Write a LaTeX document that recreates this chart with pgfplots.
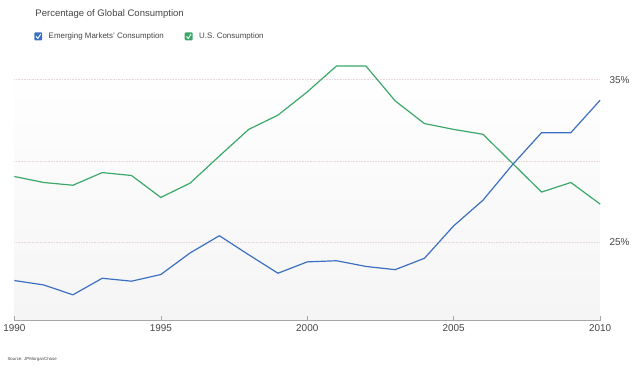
\documentclass[border=0pt]{standalone}
\usepackage{pgfplots}
\pgfplotsset{compat=1.18}
\usepackage{fontspec}
\setmainfont{Liberation Sans}
\definecolor{emblue}{HTML}{3B6FC2}
\definecolor{usgreen}{HTML}{3BA86A}
\definecolor{txtgray}{HTML}{444444}
\definecolor{gridpink}{HTML}{E9D6D6}
\begin{document}
\begin{tikzpicture}[x=1bp,y=1bp]
\begin{axis}[
  at={(0,0)}, anchor=south west,
  scale only axis, width=588bp, height=262bp,
  xmin=1990, xmax=2010, ymin=20.15, ymax=36.23,
  axis x line*=bottom, axis y line=none,
  xtick={1990,1995,2000,2005,2010},
  xticklabel style={font=\fontsize{10}{12}\selectfont, text=txtgray},
  x tick label style={/pgf/number format/1000 sep={}},
  /pgf/number format/assume math mode=true,
  x axis line style={draw=gray!70, line width=0.8pt},
  xtick style={draw=gray!70, line width=0.6pt},
  tick align=inside, major tick length=5bp,
  clip=false,
  axis background/.style={shade, top color=white, middle color=white, bottom color=black!4},
]
\pgfplotsinvokeforeach{25,30,35}{
  \draw[gridpink, densely dotted, line width=0.6pt] (axis cs:1990,#1) -- (axis cs:2010,#1);
}
\node[anchor=west, font=\fontsize{10}{12}\selectfont, text=txtgray] at (axis cs:2010,35) {\hspace*{6bp}35\%};
\node[anchor=west, font=\fontsize{10}{12}\selectfont, text=txtgray] at (axis cs:2010,25) {\hspace*{6bp}25\%};
\addplot[usgreen, line width=1.2pt] coordinates {
(1990,29.04) (1991,28.67) (1992,28.50) (1993,29.28) (1994,29.10)
(1995,27.75) (1996,28.63) (1997,30.30) (1998,31.94) (1999,32.82)
(2000,34.25) (2001,35.85) (2002,35.85) (2003,33.70) (2004,32.30)
(2005,31.94) (2006,31.64) (2007,29.86) (2008,28.08) (2009,28.67)
(2010,27.34)};
\addplot[emblue, line width=1.2pt] coordinates {
(1990,22.63) (1991,22.36) (1992,21.75) (1993,22.77) (1994,22.59)
(1995,23.00) (1996,24.33) (1997,25.39) (1998,24.22) (1999,23.08)
(2000,23.78) (2001,23.85) (2002,23.50) (2003,23.30) (2004,24.00)
(2005,26.00) (2006,27.58) (2007,29.75) (2008,31.74) (2009,31.74)
(2010,33.74)};
\end{axis}
\useasboundingbox (-12bp,-47bp) rectangle (628bp,322bp);
\node[anchor=west, inner sep=0pt, font=\fontsize{9.6}{12}\selectfont, text=txtgray] at (21bp,308bp) {Percentage of Global Consumption};
\fill[emblue, rounded corners=1bp] (20bp,281.5bp) rectangle (28bp,289.5bp);
\draw[white, line width=0.9pt] (21.8bp,285.5bp) -- (23.6bp,283.4bp) -- (26.4bp,287.8bp);
\node[anchor=west, font=\fontsize{8}{10}\selectfont, text=txtgray] at (31bp,285.5bp) {Emerging Markets' Consumption};
\fill[usgreen, rounded corners=1bp] (171bp,281.5bp) rectangle (179bp,289.5bp);
\draw[white, line width=0.9pt] (172.8bp,285.5bp) -- (174.6bp,283.4bp) -- (177.4bp,287.8bp);
\node[anchor=west, font=\fontsize{8}{10}\selectfont, text=txtgray] at (182bp,285.5bp) {U.S. Consumption};
\node[anchor=west, inner sep=0pt, font=\fontsize{4.4}{6}\selectfont, text=txtgray] at (-7bp,-39bp) {Source: JPMorganChase};
\end{tikzpicture}
\end{document}
